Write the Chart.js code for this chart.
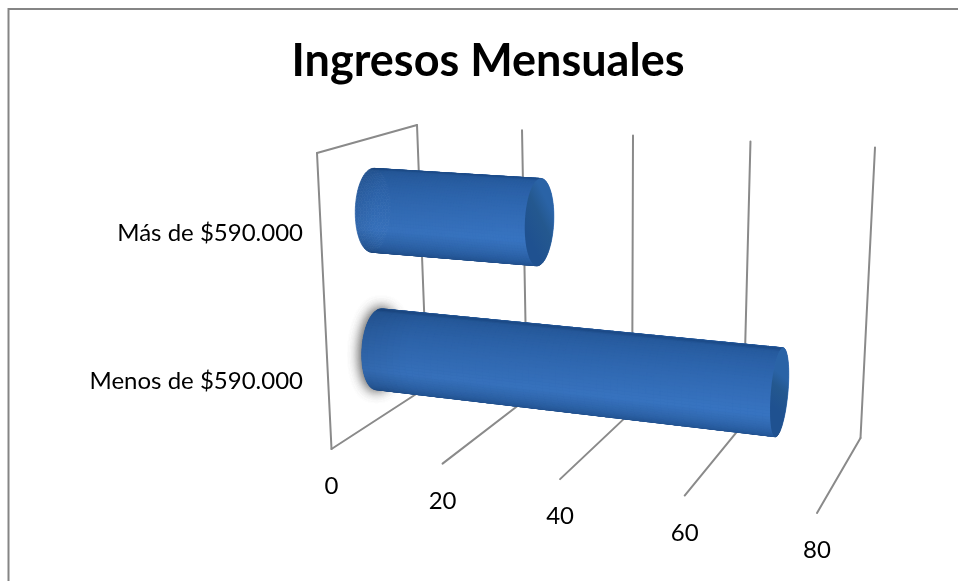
<!DOCTYPE html>
<html>
<head>
<meta charset="utf-8">
<script src="https://cdn.jsdelivr.net/npm/chart.js@4"></script>
<style>
html, body { margin: 0; background: #fff; }
canvas { display: block; }
</style>
</head>
<body>
<canvas id="chart1" width="958" height="581"></canvas>
<script>
const categories = ["Más de $590.000", "Menos de $590.000"];
const values = [30, 70];
const xMax = 80;
const xStep = 20;
const title = "Ingresos Mensuales";

const fontName = "Lato, 'Open Sans', sans-serif";
const lineColor = "#8a8a8a";

// the flat chart area is projected on to the two walls of the 3d box
const frontWall = homography([317, 153], [831, 182], [817, 513], [331.5, 449]);
const backWall = homography([417, 125], [875, 147.5], [860.5, 438], [427, 387]);

function homography(p0, p1, p2, p3) {
    let dx1 = p1[0] - p2[0], dx2 = p3[0] - p2[0], sx = p0[0] - p1[0] + p2[0] - p3[0];
    let dy1 = p1[1] - p2[1], dy2 = p3[1] - p2[1], sy = p0[1] - p1[1] + p2[1] - p3[1];
    let den = dx1 * dy2 - dx2 * dy1;
    let g = (sx * dy2 - dx2 * sy) / den;
    let h = (dx1 * sy - sx * dy1) / den;
    let a = p1[0] - p0[0] + g * p1[0], b = p3[0] - p0[0] + h * p3[0];
    let d = p1[1] - p0[1] + g * p1[1], e = p3[1] - p0[1] + h * p3[1];
    return (u, v) => {
        let w = g * u + h * v + 1;
        return [(a * u + b * v + p0[0]) / w, (d * u + e * v + p0[1]) / w];
    };
}

function project(u, v, depth) {
    let f = frontWall(u, v), b = backWall(u, v);
    return [f[0] + (b[0] - f[0]) * depth, f[1] + (b[1] - f[1]) * depth];
}

function line(ctx, a, b) {
    ctx.beginPath();
    ctx.moveTo(a[0], a[1]);
    ctx.lineTo(b[0], b[1]);
    ctx.stroke();
}

// colour around the tube, t = 0 on top, t = PI at the bottom
const shade = [[0, [26, 70, 128]], [0.06, [36, 86, 150]], [0.3, [44, 98, 168]], [0.58, [54, 112, 186]], [0.8, [38, 88, 152]], [0.96, [30, 72, 128]], [1, [24, 58, 104]]];

function tubeColor(t, bright) {
    let k = Math.min(1, Math.abs(t) / Math.PI);
    for (let i = 1; i < shade.length; i++) {
        if (k <= shade[i][0]) {
            let m = (k - shade[i - 1][0]) / (shade[i][0] - shade[i - 1][0]);
            let c = shade[i - 1][1].map((x, j) => Math.round((x + (shade[i][1][j] - x) * m) * bright));
            return `rgb(${c[0]},${c[1]},${c[2]})`;
        }
    }
    return "rgb(24,58,104)";
}

function drawTube(ctx, u0, u1, vc, r, glow) {
    const dc = 0.53, s = 0.18;
    const ring = (u, t) => project(u, vc - r * Math.cos(t), dc - s * Math.sin(t));
    const steps = 80, cuts = 60;

    function capPath(u) {
        ctx.beginPath();
        for (let i = 0; i <= steps; i++) {
            let p = ring(u, i / steps * Math.PI * 2);
            i ? ctx.lineTo(p[0], p[1]) : ctx.moveTo(p[0], p[1]);
        }
        ctx.closePath();
    }

    if (glow) {
        ctx.save();
        ctx.shadowColor = "rgba(70,70,70,0.8)";
        ctx.shadowBlur = 14;
        ctx.fillStyle = "#2a5c9f";
        capPath(u0);
        ctx.fill();
        ctx.fill();
        ctx.restore();
    }

    // back half first so the front of the tube paints over it
    let order = [];
    for (let i = 0; i < steps; i++) order.push(i);
    order.sort((a, b) => Math.sin((a + 0.5) / steps * Math.PI * 2) - Math.sin((b + 0.5) / steps * Math.PI * 2));

    ctx.lineWidth = 0.7;
    for (let i of order) {
        let t0 = i / steps * Math.PI * 2, t1 = (i + 1) / steps * Math.PI * 2;
        let tm = (t0 + t1) / 2;
        if (tm > Math.PI) tm = Math.PI * 2 - tm;
        for (let c = 0; c < cuts; c++) {
            let a = u0 + (u1 - u0) * c / cuts, b = u0 + (u1 - u0) * (c + 1) / cuts;
            let pos = (c + 0.5) / cuts;
            let bright = pos < 0.12 ? 0.93 + pos * 0.58 : 1 + (Math.min(pos, 0.88) - 0.12) * 0.05;
            let col = tubeColor(tm, bright);
            ctx.fillStyle = col;
            ctx.strokeStyle = col;
            let p = [ring(a, t0), ring(b, t0), ring(b, t1), ring(a, t1)];
            ctx.beginPath();
            ctx.moveTo(p[0][0], p[0][1]);
            p.slice(1).forEach(q => ctx.lineTo(q[0], q[1]));
            ctx.closePath();
            ctx.fill();
            ctx.stroke();
        }
    }

    // right end of the tube
    let left = ring(u1, Math.PI / 2), right = ring(u1, Math.PI * 1.5);
    let grad = ctx.createLinearGradient(left[0], left[1], right[0], right[1]);
    grad.addColorStop(0, "#1f5190");
    grad.addColorStop(0.6, "#24588f");
    grad.addColorStop(1, "#2a63a6");
    ctx.fillStyle = grad;
    capPath(u1);
    ctx.fill();
}

const box3d = {
    id: "box3d",
    beforeDraw(chart) {
        let ctx = chart.ctx;
        ctx.save();
        ctx.fillStyle = "#fff";
        ctx.fillRect(0, 0, chart.width, chart.height);
        // outer frame, cut off by the screenshot on the right and bottom
        ctx.strokeStyle = "#858585";
        ctx.lineWidth = 2;
        ctx.beginPath();
        ctx.moveTo(8.5, chart.height);
        ctx.lineTo(8.5, 9);
        ctx.lineTo(chart.width, 9);
        ctx.stroke();
        ctx.restore();
    },
    beforeDatasetsDraw(chart) {
        let ctx = chart.ctx, x = chart.scales.x, area = chart.chartArea;
        ctx.save();
        ctx.strokeStyle = lineColor;
        ctx.lineWidth = 2;
        ctx.lineCap = "round";
        ctx.lineJoin = "round";
        x.ticks.forEach(tick => {
            let u = (x.getPixelForValue(tick.value) - area.left) / area.width;
            line(ctx, project(u, 0, 1), project(u, 1, 1));
            line(ctx, project(u, 1, 1), project(u, 1, 0));
        });
        // side wall at zero
        line(ctx, project(0, 0, 1), project(0, 0, 0));
        line(ctx, project(0, 0, 0), project(0, 1, 0));
        ctx.restore();
    },
    afterDatasetsDraw(chart) {
        let ctx = chart.ctx, area = chart.chartArea, x = chart.scales.x;
        ctx.save();
        chart.getDatasetMeta(0).data.forEach((bar, i) => {
            let u0 = (bar.base - area.left) / area.width;
            let u1 = (bar.x - area.left) / area.width;
            let vc = (bar.y - area.top) / area.height;
            let r = bar.height / 2 / area.height;
            drawTube(ctx, u0, u1, vc, r, i === 1);
        });
        ctx.fillStyle = "#000";
        ctx.font = "24px " + fontName;
        ctx.textAlign = "center";
        ctx.textBaseline = "middle";
        x.ticks.forEach(tick => {
            let u = (x.getPixelForValue(tick.value) - area.left) / area.width;
            let p = project(u, 1, 0);
            ctx.fillText(tick.label, p[0], p[1] + 37.5);
        });
        ctx.restore();
    }
};

new Chart("chart1", {
    type: "bar",
    data: {
        labels: categories,
        datasets: [{
            label: title,
            data: values,
            backgroundColor: "transparent",
            barPercentage: 0.58,
            categoryPercentage: 1
        }]
    },
    options: {
        indexAxis: "y",
        responsive: false,
        animation: false,
        layout: { padding: { left: 18, right: 0, top: 0, bottom: 125.5 } },
        plugins: {
            legend: { display: false },
            tooltip: { enabled: false },
            title: {
                display: true,
                text: title,
                color: "#000",
                font: { family: fontName, size: 45, weight: "bold" },
                padding: { top: 34, bottom: 71 }
            }
        },
        scales: {
            x: {
                min: 0,
                max: xMax,
                grid: { display: false, drawTicks: false },
                border: { display: false },
                ticks: { display: false, stepSize: xStep }
            },
            y: {
                grid: { display: false, drawTicks: false },
                border: { display: false },
                ticks: { color: "#000", padding: 7, font: { family: fontName, size: 24 } },
                afterFit: scale => { scale.width = 292; }
            }
        }
    },
    plugins: [box3d]
});
</script>
</body>
</html>
